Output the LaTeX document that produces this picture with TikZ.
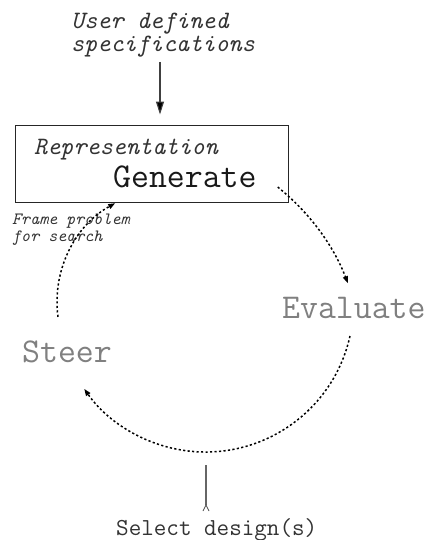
\documentclass[tikz,border=0pt]{standalone}
\usepackage{fontspec}
\usetikzlibrary{arrows.meta,calc}
\begin{document}
\begin{tikzpicture}[x=1pt,y=1pt,
  lbl/.style={anchor=base west, inner sep=0pt, text=black!80},
  big/.style={lbl, font=\ttfamily\fontsize{34.8}{38}\selectfont},
  mid/.style={lbl, font=\ttfamily\fontsize{25}{23}\selectfont\itshape},
  small/.style={lbl, font=\ttfamily\fontsize{17.2}{17}\selectfont\itshape},
  faded/.style={text=black!50},
  flow/.style={line width=1.5pt, dash pattern=on 2.2pt off 2.3pt,
    -{Triangle[length=7pt,width=5pt]}},
  feed/.style={line width=1.1pt, draw=black!75,
    -{Triangle[length=13pt,width=8pt,fill=black]}},
]
\useasboundingbox (0,0) rectangle (428,-540);

% labels
\node[mid, align=left] (spec) at (71,-52) {User defined\\specifications};
\node[draw=black!85, line width=0.9pt, minimum width=273pt,
      minimum height=77pt, inner sep=0pt] (box) at (151.5,-163.5) {};
\node[mid] (rep) at (34,-155) {Representation};
\node[big, text=black!90] (gen) at (113,-187) {Generate};
\node[small, align=left] (frame) at (12,-241) {Frame problem\\for search};
\node[big, faded] (eval) at (282,-318) {Evaluate};
\node[big, faded] (steer) at (22,-362) {Steer};
\node[lbl, font=\ttfamily\fontsize{24.4}{26}\selectfont] (sel) at (116,-535) {Select design(s)};

% input from the user
\coordinate (specfoot) at (160,-62);
\coordinate (boxtop) at (box.north -| specfoot);
\draw[feed, shorten >=10pt] (specfoot) -- (boxtop);

% the generate / evaluate / steer loop
\coordinate (c1) at (135.8,-364.2);
\coordinate (c2) at (205.5,-304);
\coordinate (c3) at (170,-302);
\coordinate (genout) at ($(c1)+(51.3:227pt)$);
\coordinate (evalout) at ($(c2)+(-12.5:148pt)$);
\coordinate (steerout) at ($(c3)+(187.6:113pt)$);
\draw[flow] (genout) arc[start angle=51.3, end angle=20.9, radius=227pt];
\draw[flow] (evalout) arc[start angle=-12.5, end angle=-145, radius=148pt];
\draw[flow] (steerout) arc[start angle=187.6, end angle=119, radius=113pt];

% selection output
\coordinate (seltop) at (206,-465);
\coordinate (selfoot) at (206,-505);
\draw[line width=1.4pt, draw=black!60] (selfoot) -- (seltop);
\draw[line width=0.8pt, draw=black!70]
  ($(selfoot)+(-3,-6)$) -- (selfoot) -- ($(selfoot)+(3,-6)$);
\end{tikzpicture}
\end{document}
